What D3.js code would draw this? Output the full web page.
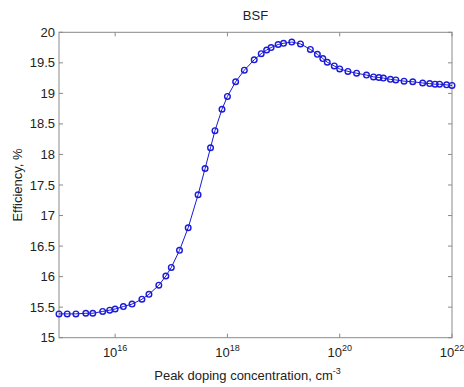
<!DOCTYPE html>
<html>
<head>
<meta charset="utf-8">
<script src="https://cdn.jsdelivr.net/npm/d3@7"></script>
<style>
  body { margin: 0; background: #fff; }
  svg text { font-family: "Liberation Sans", Arial, sans-serif; fill: #222; }
</style>
</head>
<body>
<svg width="464" height="387"></svg>
<script>
// Peak doping concentration, cm^-3
var doping = [
  1e15, 1.4e15, 2e15, 3e15, 4e15, 6e15, 8e15,
  1e16, 1.4e16, 2e16, 3e16, 4e16, 6e16, 8e16,
  1e17, 1.4e17, 2e17, 3e17, 4e17, 5e17, 6e17, 8e17,
  1e18, 1.4e18, 2e18, 3e18, 4e18, 5e18, 6e18, 8e18,
  1e19, 1.4e19, 2e19, 3e19, 4e19, 5e19, 6e19, 8e19,
  1e20, 1.4e20, 2e20, 3e20, 4e20, 5e20, 6e20, 8e20,
  1e21, 1.4e21, 2e21, 3e21, 4e21, 5e21, 6e21, 8e21,
  1e22
];
// Efficiency, %
var efficiency = [
  15.39, 15.39, 15.39, 15.40, 15.40, 15.43, 15.45,
  15.47, 15.51, 15.55, 15.63, 15.71, 15.86, 16.01,
  16.15, 16.43, 16.80, 17.34, 17.77, 18.11, 18.39, 18.74,
  18.95, 19.19, 19.38, 19.55, 19.65, 19.71, 19.75, 19.80,
  19.82, 19.84, 19.81, 19.72, 19.64, 19.57, 19.51, 19.45,
  19.40, 19.36, 19.33, 19.30, 19.27, 19.26, 19.25, 19.23,
  19.22, 19.20, 19.19, 19.17, 19.16, 19.15, 19.15, 19.14,
  19.13
];
var xTicks = [1e16, 1e18, 1e20, 1e22];
var yTicks = [15, 15.5, 16, 16.5, 17, 17.5, 18, 18.5, 19, 19.5, 20];

var svg = d3.select("svg");
var plotLeft = 59, plotRight = 452, plotTop = 32.3, plotBottom = 337.7;

var x = d3.scaleLog().domain([1e15, 1e22]).range([plotLeft, plotRight]);
var y = d3.scaleLinear().domain([15, 20]).range([plotBottom, plotTop]);

var axisColor = "#8a8a8a";
var blue = "#1a1ad8";

// box
svg.append("rect")
    .attr("x", plotLeft).attr("y", plotTop)
    .attr("width", plotRight - plotLeft).attr("height", plotBottom - plotTop)
    .attr("fill", "none").attr("stroke", axisColor).attr("stroke-width", 1);

// inward ticks on all four sides
var tl = 4;
var g = svg.append("g").attr("stroke", axisColor).attr("stroke-width", 1);
yTicks.forEach(function(t) {
  g.append("line").attr("x1", plotLeft).attr("x2", plotLeft + tl).attr("y1", y(t)).attr("y2", y(t));
  g.append("line").attr("x1", plotRight).attr("x2", plotRight - tl).attr("y1", y(t)).attr("y2", y(t));
});
xTicks.forEach(function(t) {
  g.append("line").attr("x1", x(t)).attr("x2", x(t)).attr("y1", plotBottom).attr("y2", plotBottom - tl);
  g.append("line").attr("x1", x(t)).attr("x2", x(t)).attr("y1", plotTop).attr("y2", plotTop + tl);
});

// y tick labels
svg.append("g").selectAll("text")
    .data(yTicks)
  .enter().append("text")
    .attr("x", plotLeft - 4)
    .attr("y", function(d) { return y(d) + 4.5; })
    .attr("text-anchor", "end")
    .attr("font-size", 13)
    .text(function(d) { return d; });

// x tick labels 10^n
var xl = svg.append("g").selectAll("text")
    .data(xTicks)
  .enter().append("text")
    .attr("x", function(d) { return x(d); })
    .attr("y", 357)
    .attr("text-anchor", "middle")
    .attr("font-size", 13);
xl.append("tspan").text("10");
xl.append("tspan")
    .attr("dy", -6)
    .attr("font-size", 9)
    .text(function(d) { return Math.round(Math.log10(d)); });

// title and axis labels
svg.append("text")
    .attr("x", (plotLeft + plotRight) / 2).attr("y", 20)
    .attr("text-anchor", "middle").attr("font-size", 13)
    .text("BSF");

var xlab = svg.append("text")
    .attr("x", (plotLeft + plotRight) / 2 - 8).attr("y", 380)
    .attr("text-anchor", "middle").attr("font-size", 13);
xlab.append("tspan").text("Peak doping concentration, cm");
xlab.append("tspan").attr("dy", -6).attr("font-size", 9).text("-3");

svg.append("text")
    .attr("transform", "translate(22," + ((plotTop + plotBottom) / 2) + ") rotate(-90)")
    .attr("text-anchor", "middle").attr("font-size", 13)
    .text("Efficiency, %");

// data
var pts = doping.map(function(d, i) { return [d, efficiency[i]]; });

svg.append("path")
    .datum(pts)
    .attr("fill", "none")
    .attr("stroke", blue)
    .attr("stroke-width", 1)
    .attr("d", d3.line()
        .x(function(d) { return x(d[0]); })
        .y(function(d) { return y(d[1]); }));

svg.append("g").selectAll("circle")
    .data(pts)
  .enter().append("circle")
    .attr("cx", function(d) { return x(d[0]); })
    .attr("cy", function(d) { return y(d[1]); })
    .attr("r", 2.8)
    .attr("fill", "none")
    .attr("stroke", blue)
    .attr("stroke-width", 1.4);
</script>
</body>
</html>
